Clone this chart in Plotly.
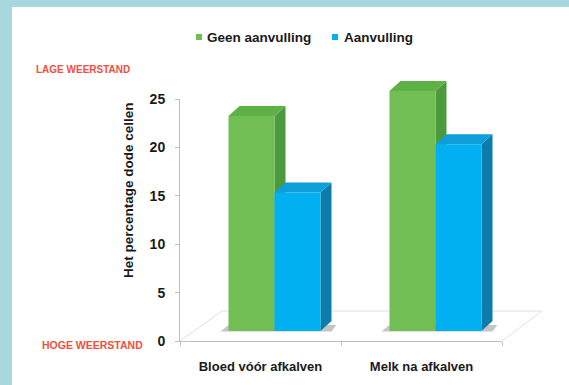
import plotly.graph_objects as go

# Data
categories = ["Bloed vóór afkalven", "Melk na afkalven"]
series_names = ["Geen aanvulling", "Aanvulling"]
geen_aanvulling = [22.2, 24.8]
aanvulling = [14.3, 19.3]
y_ticks = [0, 5, 10, 15, 20, 25]

# Colours: front, side, top faces
front_colors = ["#71BE55", "#00B0F0"]
side_colors = ["#4C9A3D", "#0A7DAB"]
top_colors = ["#5EB147", "#0E9FDA"]

W, H = 569, 385
FONT = "Liberation Sans, Arial, sans-serif"
TEXT = "#1a1a1a"

# Pixel geometry of the axes frame
AX_L, AX_R = 180, 502          # x axis front edge
Y0_PX, Y25_PX = 341, 99        # value axis 0 and 25
PX_PER_UNIT = (Y0_PX - Y25_PX) / 25.0
PX_PER_CAT = (AX_R - AX_L) / 2.0
# bars stand partway into the floor depth
BAR_SHIFT_X, BAR_FLOOR_PX = 14, 331
# depth of each 3D column
DEPTH_X_PX, DEPTH_Y_PX = 11, 10

bar_w = 46 / PX_PER_CAT
dx = DEPTH_X_PX / PX_PER_CAT
dy = DEPTH_Y_PX / PX_PER_UNIT

fig = go.Figure()

# empty trace so the front axes frame is drawn
fig.add_trace(go.Scatter(x=[None], y=[None], xaxis="x", yaxis="y",
                         showlegend=False, hoverinfo="skip"))

series = [geen_aanvulling, aanvulling]
offsets = [-bar_w, 0.0]
shapes = []

# white panel on the teal card
shapes.append(dict(type="rect", xref="paper", yref="paper", layer="below",
                   x0=12 / W, x1=1, y0=0, y1=(H - 7) / H,
                   fillcolor="white", line=dict(width=0)))


def px(xp, yp):
    return xp / W, (H - yp) / H


# floor of the 3D box
floor_pts = [((AX_L, Y0_PX), (AX_L + 42, Y0_PX - 30)),
             ((AX_L + 42, Y0_PX - 30), (AX_R + 40, Y0_PX - 30)),
             ((AX_R, Y0_PX), (AX_R + 40, Y0_PX - 30))]
for (a, b) in floor_pts:
    x0, y0 = px(*a)
    x1, y1 = px(*b)
    shapes.append(dict(type="line", xref="paper", yref="paper", layer="below",
                       x0=x0, y0=y0, x1=x1, y1=y1,
                       line=dict(color="#E0E0E0", width=1)))

# soft shadow at the foot of each pair of columns
for i in range(len(categories)):
    shapes.append(dict(
        type="path", xref="x2", yref="y2", layer="below",
        path=(f"M{i - bar_w - 0.05},-0.05 L{i + bar_w + dx},-0.05 "
              f"L{i + bar_w + dx + 0.03},{dy * 0.6} L{i - bar_w},{dy * 0.6} Z"),
        fillcolor="rgba(90,90,90,0.35)", line=dict(width=0)))

for k, vals in enumerate(series):
    fig.add_trace(go.Bar(
        x=list(range(len(categories))), y=vals, base=0,
        width=bar_w, offset=offsets[k], name=series_names[k],
        marker=dict(color=front_colors[k], line=dict(width=0)),
        xaxis="x2", yaxis="y2", showlegend=False,
    ))
    for i, v in enumerate(vals):
        x0 = i + offsets[k]
        x1 = x0 + bar_w
        # right side face
        shapes.append(dict(
            type="path", xref="x2", yref="y2", layer="below",
            path=f"M{x1},0 L{x1},{v} L{x1 + dx},{v + dy} L{x1 + dx},{dy} Z",
            fillcolor=side_colors[k], line=dict(width=0)))
        # top face
        shapes.append(dict(
            type="path", xref="x2", yref="y2", layer="below",
            path=f"M{x0},{v} L{x1},{v} L{x1 + dx},{v + dy} L{x0 + dx},{v + dy} Z",
            fillcolor=top_colors[k], line=dict(width=0)))

# legend swatches and labels
legend_x = [196, 332]
legend_text_x = [205, 342]
LEG_Y = 37
annotations = []
for k, name in enumerate(series_names):
    shapes.append(dict(type="rect", xref="paper", yref="paper",
                       x0=legend_x[k] / W, x1=(legend_x[k] + 6) / W,
                       y0=(H - LEG_Y - 3) / H, y1=(H - LEG_Y + 3) / H,
                       fillcolor=front_colors[k], line=dict(width=0)))
    annotations.append(dict(xref="paper", yref="paper", x=legend_text_x[k] / W,
                            y=(H - LEG_Y) / H, xanchor="left", yanchor="middle",
                            text=name, showarrow=False,
                            font=dict(family=FONT, size=13.5, color=TEXT, weight="bold")))

# value axis title
annotations.append(dict(xref="paper", yref="paper", x=128 / W, y=(H - 190) / H,
                        text="Het percentage dode cellen", textangle=-90,
                        showarrow=False, xanchor="center", yanchor="middle",
                        font=dict(family=FONT, size=13.5, color=TEXT, weight="bold")))

# resistance markers
annotations.append(dict(xref="paper", yref="paper", x=83 / W, y=(H - 70) / H,
                        xanchor="center", yanchor="middle",
                        text="LAGE WEERSTAND", showarrow=False,
                        font=dict(family=FONT, size=10, color="#F0503C", weight="bold")))
annotations.append(dict(xref="paper", yref="paper", x=93 / W, y=(H - 345) / H,
                        xanchor="center", yanchor="middle",
                        text="HOGE WEERSTAND", showarrow=False,
                        font=dict(family=FONT, size=10.5, color="#F0503C", weight="bold")))

x2_lo = -(AX_L + BAR_SHIFT_X) / PX_PER_CAT - 0.5
x2_hi = (W - AX_L - BAR_SHIFT_X) / PX_PER_CAT - 0.5
y2_lo = -(H - BAR_FLOOR_PX) / PX_PER_UNIT
y2_hi = BAR_FLOOR_PX / PX_PER_UNIT

fig.update_layout(
    width=W, height=H,
    margin=dict(l=0, r=0, t=0, b=0, autoexpand=False),
    paper_bgcolor="#A9D7DE",
    plot_bgcolor="rgba(0,0,0,0)",
    showlegend=False,
    barmode="overlay",
    shapes=shapes,
    annotations=annotations,
    xaxis=dict(domain=[AX_L / W, AX_R / W], range=[-0.5, 1.5], anchor="y",
               automargin=False,
               tickvals=list(range(len(categories))), ticktext=categories,
               ticks="", showline=True, linecolor="#BFBFBF", linewidth=1,
               showgrid=False, zeroline=False, ticklabelstandoff=13,
               tickfont=dict(family=FONT, size=13, color=TEXT, weight="bold"),
               minor=dict(tickvals=[-0.5, 0.5, 1.5], ticks="outside",
                          ticklen=4, tickcolor="#BFBFBF", showgrid=False),
               fixedrange=True),
    yaxis=dict(domain=[(H - Y0_PX) / H, (H - Y25_PX) / H], range=[0, 25],
               anchor="x", automargin=False,
               tickvals=y_ticks, ticks="outside", ticklen=4, tickcolor="#BFBFBF",
               showline=True, linecolor="#BFBFBF", linewidth=1,
               showgrid=False, zeroline=False, ticklabelstandoff=7,
               tickfont=dict(family=FONT, size=14, color=TEXT, weight="bold"),
               fixedrange=True),
    xaxis2=dict(domain=[0, 1], range=[x2_lo, x2_hi], anchor="y2",
                automargin=False, visible=False, fixedrange=True),
    yaxis2=dict(domain=[0, 1], range=[y2_lo, y2_hi], anchor="x2",
                automargin=False, visible=False, fixedrange=True),
)

fig.write_html("out.html")
